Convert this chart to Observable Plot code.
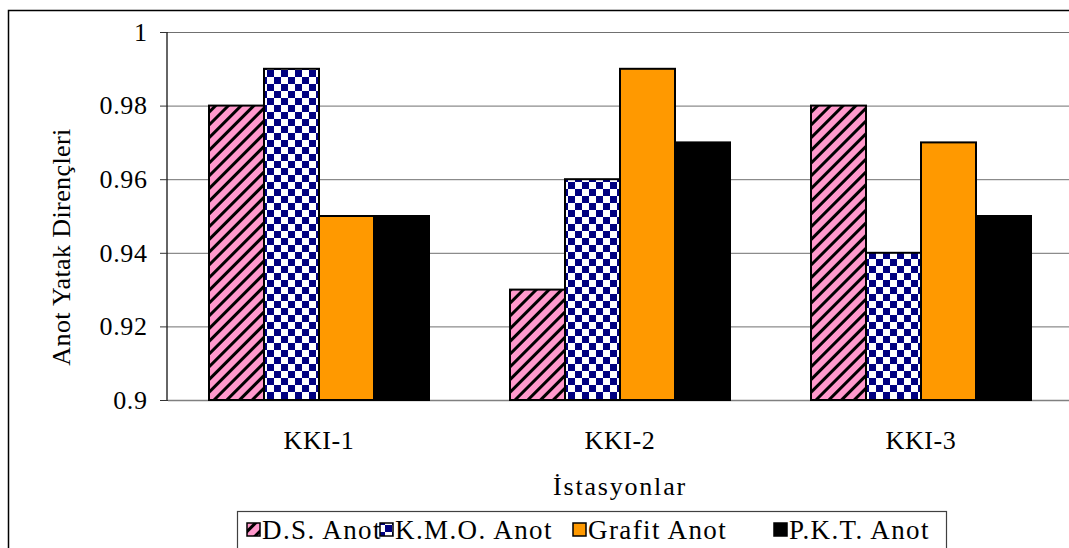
<!DOCTYPE html>
<html>
<head>
<meta charset="utf-8">
<script src="https://cdn.jsdelivr.net/npm/d3@7"></script>
<script src="https://cdn.jsdelivr.net/npm/@observablehq/plot@0.6"></script>
<style>
  html, body { margin: 0; padding: 0; background: #fff; overflow: hidden; }
  #chart svg { display: block; }
</style>
</head>
<body>
<div id="chart"></div>
<script>
// Stations on the category axis
const stations = ["KKI-1", "KKI-2", "KKI-3"];
// Anode types (one bar per station each)
const series = ["D.S. Anot", "K.M.O. Anot", "Grafit Anot", "P.K.T. Anot"];
// Anode bed resistances per station, one array per anode type
const dsValues = [0.98, 0.93, 0.98];
const kmoValues = [0.99, 0.96, 0.94];
const grafitValues = [0.95, 0.99, 0.97];
const pktValues = [0.95, 0.97, 0.95];
// Y axis tick values
const yTicks = [0.9, 0.92, 0.94, 0.96, 0.98, 1];
// Fills: hatched pink, navy checkerboard, orange, black
const seriesFills = ["url(#hatch-ds)", "url(#checker-kmo)", "#FF9900", "#000000"];

const valuesBySeries = [dsValues, kmoValues, grafitValues, pktValues];
const rows = stations.flatMap((station, i) =>
  series.map((name, j) => ({station, series: name, value: valuesBySeries[j][i]}))
);

const serif = "'Liberation Serif', 'Times New Roman', serif";

const chart = Plot.plot({
  width: 1069,
  height: 548,
  marginLeft: 167,
  marginRight: -2,
  marginTop: 32,
  marginBottom: 148,
  style: {fontFamily: serif, fontSize: "26px", color: "#000", background: "#fff", overflow: "hidden"},
  fx: {domain: stations, padding: 0, label: null},
  x: {domain: series, paddingInner: 0, paddingOuter: 0.729, axis: null},
  y: {domain: [yTicks[0], yTicks[yTicks.length - 1]], label: null},
  color: {domain: series, range: seriesFills},
  marks: [
    Plot.gridY({ticks: yTicks, stroke: "#707070", strokeOpacity: 1, strokeWidth: 1}),
    Plot.ruleY([yTicks[0]], {stroke: "#808080", strokeWidth: 1.5}),
    Plot.barY(rows, {
      fx: "station",
      x: "series",
      y1: yTicks[0],
      y2: "value",
      fill: "series",
      stroke: "#000",
      strokeWidth: 2
    }),
    Plot.axisY({
      ticks: yTicks,
      tickSize: 8,
      tickPadding: 13,
      stroke: "#333",
      fontFamily: serif,
      fontSize: 26,
      tickFormat: (d) => String(+d.toFixed(2)),
      label: null
    }),
    Plot.axisFx({anchor: "bottom", tickSize: 0, tickPadding: 30, fontFamily: serif, fontSize: 26, label: null})
  ]
});

const svg = d3.select(chart);

// Pattern definitions used by the hatched and checkered bars
const defs = svg.insert("defs", ":first-child");
const hatch = defs.append("pattern")
  .attr("id", "hatch-ds")
  .attr("patternUnits", "userSpaceOnUse")
  .attr("width", 9).attr("height", 9)
  .attr("patternTransform", "rotate(45)");
hatch.append("rect").attr("width", 9).attr("height", 9).attr("fill", "#FF99CC");
hatch.append("rect").attr("width", 3).attr("height", 9).attr("fill", "#000");

const checker = defs.append("pattern")
  .attr("id", "checker-kmo")
  .attr("patternUnits", "userSpaceOnUse")
  .attr("width", 14).attr("height", 14);
checker.append("rect").attr("width", 14).attr("height", 14).attr("fill", "#fff");
checker.append("rect").attr("width", 7).attr("height", 7).attr("fill", "#000080");
checker.append("rect").attr("x", 7).attr("y", 7).attr("width", 7).attr("height", 7).attr("fill", "#000080");

// Slightly widened tick labels
svg.selectAll("[aria-label='y-axis tick label'] text, [aria-label='fx-axis tick label'] text")
  .attr("letter-spacing", 0.6);

// Left axis line of the plot area
const y = chart.scale("y");
svg.append("line")
  .attr("x1", 167).attr("x2", 167)
  .attr("y1", y.apply(yTicks[0])).attr("y2", y.apply(yTicks[yTicks.length - 1]))
  .attr("stroke", "#333").attr("stroke-width", 1.5);

// Outer chart frame
svg.append("rect")
  .attr("x", 8.5).attr("y", 10.5)
  .attr("width", 1200).attr("height", 800)
  .attr("fill", "none").attr("stroke", "#000").attr("stroke-width", 1.5);

// Axis titles
svg.append("text")
  .attr("transform", "translate(62,247) rotate(-90)")
  .attr("text-anchor", "middle")
  .attr("dy", "0.3em")
  .attr("letter-spacing", 0.4)
  .attr("font-family", serif).attr("font-size", 26)
  .text("Anot Yatak Dirençleri");

svg.append("text")
  .attr("x", 620).attr("y", 495)
  .attr("text-anchor", "middle")
  .attr("letter-spacing", 1.8)
  .attr("font-family", serif).attr("font-size", 26)
  .text("İstasyonlar");

// Legend
const legend = svg.append("g").attr("text-anchor", "start");
legend.append("rect")
  .attr("x", 237.5).attr("y", 511.5)
  .attr("width", 709).attr("height", 80)
  .attr("fill", "#fff").attr("stroke", "#404040").attr("stroke-width", 1.2);
const swatchX = [247, 380, 573, 774];
series.forEach((name, i) => {
  legend.append("rect")
    .attr("x", swatchX[i]).attr("y", 523)
    .attr("width", 13).attr("height", 13)
    .attr("fill", chart.scale("color").apply(name))
    .attr("stroke", "#000").attr("stroke-width", 1.5);
  legend.append("text")
    .attr("x", swatchX[i] + 15).attr("y", 539)
    .attr("text-anchor", "start")
    .attr("letter-spacing", 1.4)
    .attr("font-family", serif).attr("font-size", 27)
    .text(name);
});

document.getElementById("chart").append(chart);
</script>
</body>
</html>
